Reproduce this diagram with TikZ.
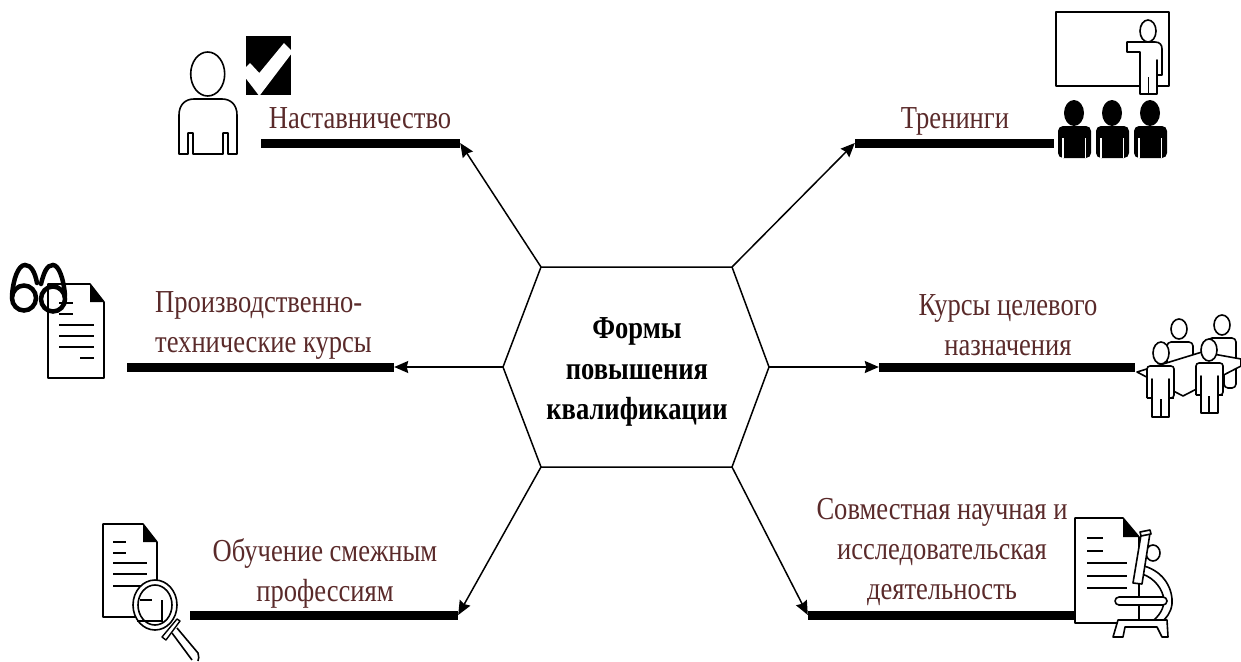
\documentclass[tikz,border=0pt]{standalone}
\usepackage{fontspec}
\setmainfont[FakeStretch=0.83]{Liberation Serif}
\usetikzlibrary{arrows.meta}
\definecolor{lbl}{HTML}{5A2A2A}
\tikzset{
  lbl/.style={text=lbl,align=center,font=\fontsize{32}{40}\selectfont,inner sep=0pt},
  ctr/.style={text=black,align=center,font=\fontsize{32}{40.5}\selectfont\bfseries,inner sep=0pt},
  bar/.style={fill=black,inner sep=0pt,minimum height=9pt,draw=none},
  hexline/.style={draw=black,line width=1.5pt},
  conn/.style={draw=black,line width=1.5pt,-{Stealth[length=14pt,width=12pt,inset=1.5pt]}},
  ico/.style={draw=black,line width=1.6pt,fill=white,line join=round},
  icoline/.style={draw=black,line width=1.6pt},
}
\begin{document}
\begin{tikzpicture}[x=1pt,y=-1pt]
\useasboundingbox (0,0) rectangle (1241,661);
% hexagon
\coordinate (h1) at (541,267);\coordinate (h2) at (732,267);\coordinate (h3) at (769,367);
\coordinate (h4) at (732,467);\coordinate (h5) at (541,467);\coordinate (h6) at (503,367);
\draw[hexline] (h1)--(h2)--(h3)--(h4)--(h5)--(h6)--cycle;
\node[ctr] (center) at (637,372) {Формы\\повышения\\квалификации};
% bars
\node[bar,minimum width=199pt] (b1) at (360.5,143) {};
\node[bar,minimum width=199pt] (b2) at (954.5,143) {};
\node[bar,minimum width=267pt] (b3) at (260.5,367) {};
\node[bar,minimum width=256pt] (b4) at (1007,367) {};
\node[bar,minimum width=268pt] (b5) at (324,615) {};
\node[bar,minimum width=270pt] (b6) at (943,615) {};
% connectors
\draw[conn] (h1) -- (b1.east);
\draw[conn] (h2) -- (b2.west);
\draw[conn] (h6) -- (b3.east);
\draw[conn] (h3) -- (b4.west);
\draw[conn] (h5) -- (b5.east);
\draw[conn] (h4) -- (b6.west);
% labels
\node[lbl] (t1) at (360,118) {Наставничество};
\node[lbl] (t2) at (955,121) {Тренинги};
\node[lbl,align=left] (t3) at (263.5,325) {Производственно-\\технические курсы};
\node[lbl] (t4) at (1008,325) {Курсы целевого\\назначения};
\node[lbl] (t5) at (325,573) {Обучение смежным\\профессиям};
\node[lbl] (t6) at (942,552) {Совместная научная и\\исследовательская\\деятельность};
% mentor
\fill[black] (246,36) rectangle (291,95);
\fill[white] (241,72)--(250,63)--(259.3,73)--(284,43)--(292.7,52)--(259.3,96)--cycle;
\draw[ico] (207.7,74) circle [x radius=17,y radius=22];
\draw[ico] (179,154)--(179,115) .. controls (179,105) and (185,99) .. (194,99)--(222,99) .. controls (231,99) and (237,105) .. (237,115)--(237,154)--(228,154)--(228,133)--(223,133)--(223,154)--(193,154)--(193,133)--(188,133)--(188,154)--cycle;
% trainer
\draw[ico] (1056,12) rectangle (1169,86);
\draw[ico] (1148,31) circle [x radius=8,y radius=11];
\draw[ico] (1127,42)--(1155,42) .. controls (1160,42) and (1162,45) .. (1162,49)--(1162,75)--(1157,75)--(1157,60)--(1157,94)--(1140,94)--(1140,52)--(1127,52)--cycle;
\draw[icoline] (1148.5,77)--(1148.5,94);
% audience
\foreach \x in {1074,1112,1150}{
  \fill[black] (\x,113) circle [x radius=10,y radius=13];
  \fill[black,rounded corners=5pt] (\x-16,158)--(\x-16,126)--(\x+17,126)--(\x+17,158)--cycle;
  \draw[white,line width=1.5pt] (\x-11,138)--(\x-11,158) (\x+11.5,138)--(\x+11.5,158);
}
% glasses doc
\draw[ico] (48,284)--(90,284)--(104,302)--(104,378)--(48,378)--cycle;
\fill[black] (90,284)--(104,302)--(90,302)--cycle;
\foreach \ya/\xa/\xb in {303/59/73,314/59/73,325/59/94,336/59/94,347/59/94,358/80/94}
  \draw[icoline] (\xa,\ya)--(\xb,\ya);
\draw[black,line width=4.5pt] (24,298) circle [x radius=12,y radius=12.5];
\draw[black,line width=4.5pt] (53,299) circle [x radius=12,y radius=12.5];
\draw[black,line width=4.5pt,line cap=round] (12,296) .. controls (13,280) and (18,265) .. (25,265) .. controls (31,265) and (35,272) .. (37,283);
\draw[black,line width=4.5pt,line cap=round] (41,284) .. controls (44,272) and (47,265) .. (53,265) .. controls (59,265) and (64,280) .. (65,296);
% group
\draw[ico] (1179,329) circle [x radius=8,y radius=10];
\draw[ico] (1222,325) circle [x radius=8,y radius=10];
\draw[ico,rounded corners=4pt] (1167,365)--(1167,342)--(1193,342)--(1193,365);
\draw[ico,rounded corners=4pt] (1208,345)--(1208,338)--(1236,338)--(1236,388)--(1224,388)--(1224,370);
\draw[ico] (1137,372)--(1202,352)--(1241,359)--(1241,366)--(1183,396)--cycle;
\foreach \cx/\ctop/\oleft/\oright/\obot in {1161/366/1147/1174/417,1209/363/1196/1223/413}{
  \draw[ico] (\cx,\ctop-13) circle [x radius=8,y radius=11];
  \draw[ico,rounded corners=3pt] (\oleft,\ctop+32)--(\oleft,\ctop)--(\oright,\ctop)--(\oright,\ctop+32)--(\oright-5,\ctop+32);
  \draw[ico] (\oleft,\ctop+32)--(\oleft+5,\ctop+32)--(\oleft+5,\ctop+13)--(\oleft+5,\obot)--(\oright-5,\obot)--(\oright-5,\ctop+13)--(\oright-5,\ctop+32)--(\oright,\ctop+32);
  \draw[icoline] (\cx,\ctop+33)--(\cx,\obot);
}
% magnifier doc
\draw[ico] (103,524)--(143,524)--(157,542)--(157,617)--(103,617)--cycle;
\fill[black] (143,524)--(157,542)--(143,542)--cycle;
\foreach \ya/\xa/\xb in {542/113/126,553/113/126,563/113/147,574/113/147,586/113/147}
  \draw[icoline] (\xa,\ya)--(\xb,\ya);
\draw[ico] (155,605) circle [x radius=22,y radius=25];
\draw[icoline] (155,605) circle [x radius=17,y radius=20];
\draw[black,line width=2.5pt] (140,600)--(152,600);
\draw[icoline] (137,621)--(162,621)--(162,600);
\draw[ico,line width=1.4pt] (177,619)--(180,621)--(166,640)--(162,637)--cycle;
\draw[icoline] (172,633) -- (192,660);
\draw[icoline] (177,628) -- (198,653) .. controls (199,656) and (199,659) .. (198,661);
% microscope doc
\draw[ico] (1075,518)--(1123,518)--(1139,537)--(1139,623)--(1075,623)--cycle;
\fill[black] (1123,518)--(1139,537)--(1123,537)--cycle;
\foreach \ya/\xa/\xb in {538/1087/1103,551/1087/1103,563/1087/1127,576/1087/1127,588/1087/1127}
  \draw[icoline] (\xa,\ya)--(\xb,\ya);
\draw[ico] (1153,553) circle [x radius=7,y radius=8];
\draw[ico] (1144,566) .. controls (1165,572) and (1173,590) .. (1172,604) .. controls (1171,612) and (1167,618) .. (1160,623)--(1150,623) .. controls (1160,616) and (1164,608) .. (1164,600) .. controls (1163,590) and (1155,578) .. (1142,574)--cycle;
\draw[icoline] (1139,583)--(1139,620);
\draw[ico,rounded corners=4pt] (1115,597)--(1167,597)--(1167,605)--(1115,605)--cycle;
\draw[ico] (1141,535)--(1150,533)--(1142,584)--(1133,583)--cycle;
\draw[ico] (1140,532)--(1150,530)--(1151,534)--(1141,536)--cycle;
\draw[ico] (1118,620)--(1113,637)--(1123,637)--(1125,627)--(1157,627)--(1162,637)--(1168,637)--(1167,620)--cycle;
\end{tikzpicture}
\end{document}
